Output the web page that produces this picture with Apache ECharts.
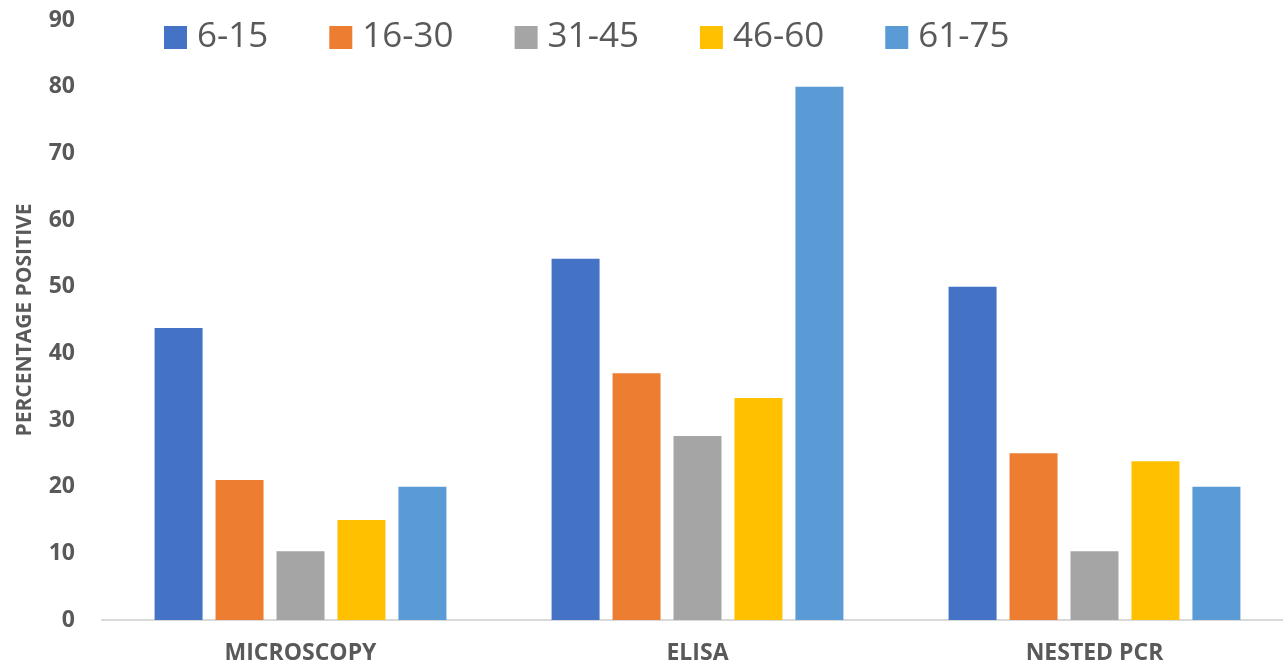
<!DOCTYPE html>
<html>
<head>
<meta charset="utf-8">
<script src="https://cdn.jsdelivr.net/npm/echarts@6/dist/echarts.min.js"></script>
<style>
  html, body { margin: 0; padding: 0; background: #fff; }
  #chart { width: 1283px; height: 667px; }
</style>
</head>
<body>
<div id="chart"></div>
<script>
const categories = ['MICROSCOPY', 'ELISA', 'NESTED PCR'];
const ageGroups = ['6-15', '16-30', '31-45', '46-60', '61-75'];
const colors = ['#4472C4', '#ED7D31', '#A5A5A5', '#FFC000', '#5B9BD5'];
const valuesByGroup = [
  [43.8, 54.2, 50.0],
  [21.0, 37.0, 25.0],
  [10.3, 27.6, 10.3],
  [15.0, 33.3, 23.8],
  [20.0, 80.0, 20.0]
];

const chart = echarts.init(document.getElementById('chart'));
const font = '"Open Sans", "Liberation Sans", sans-serif';

chart.setOption({
  backgroundColor: '#fff',
  animation: false,
  textStyle: { fontFamily: font },
  legend: {
    top: 15,
    left: 159,
    itemWidth: 23,
    itemHeight: 23,
    itemGap: 61,
    icon: 'rect',
    textStyle: { fontSize: 35, color: '#595959', fontFamily: font, padding: [0, 0, 0, 5] },
    data: ageGroups
  },
  grid: { left: 102, width: 1191, top: 20, bottom: 47, outerBoundsMode: 'none' },
  xAxis: {
    type: 'category',
    data: categories,
    axisLine: { lineStyle: { color: '#D9D9D9', width: 2 } },
    axisTick: { show: false },
    axisLabel: { fontSize: 23, fontWeight: 'bold', color: '#595959', margin: 22, fontFamily: font }
  },
  yAxis: {
    type: 'value',
    min: 0,
    max: 90,
    interval: 10,
    name: 'PERCENTAGE POSITIVE',
    nameLocation: 'middle',
    nameGap: 66,
    nameTextStyle: { fontSize: 21, fontWeight: 'bold', color: '#595959', fontFamily: font },
    axisLine: { show: false },
    axisTick: { show: false },
    splitLine: { show: false },
    axisLabel: { fontSize: 23, fontWeight: 'bold', color: '#595959', margin: 27, fontFamily: font }
  },
  series: ageGroups.map((name, i) => ({
    name,
    type: 'bar',
    data: valuesByGroup[i],
    itemStyle: { color: colors[i] },
    barWidth: 48,
    barGap: '27%'
  }))
});
</script>
</body>
</html>
